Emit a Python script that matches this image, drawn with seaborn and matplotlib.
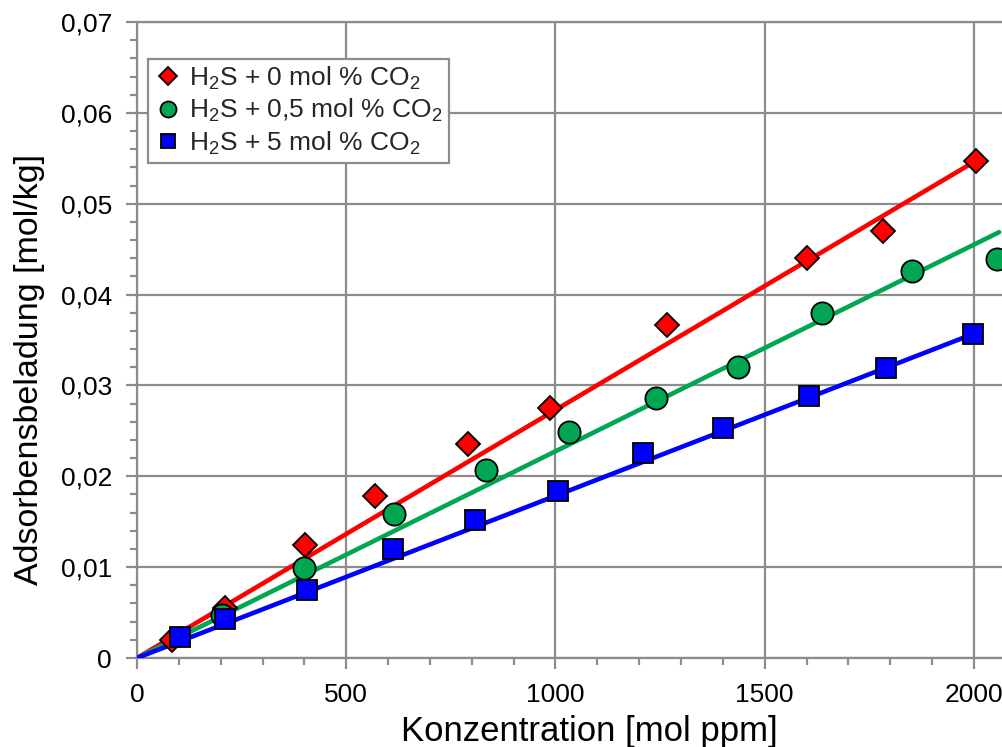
import numpy as np
import pandas as pd
import matplotlib
matplotlib.use("Agg")
import matplotlib.pyplot as plt
import seaborn as sns
from matplotlib.ticker import MultipleLocator, FuncFormatter

# Measured adsorption loadings (concentration in mol ppm, loading in mol/kg)
x_0co2 = [83, 210, 401, 569, 791, 987, 1266, 1601, 1783, 2004]
y_0co2 = [0.0020, 0.0055, 0.0124, 0.0178, 0.0236, 0.0275, 0.0367, 0.0440, 0.0470, 0.0547]

x_05co2 = [202, 399, 614, 834, 1032, 1240, 1436, 1637, 1851, 2054]
y_05co2 = [0.0047, 0.0099, 0.0159, 0.0207, 0.0249, 0.0286, 0.0320, 0.0380, 0.0426, 0.0439]

x_5co2 = [103, 210, 407, 612, 808, 1006, 1209, 1400, 1606, 1790, 1997]
y_5co2 = [0.0023, 0.0043, 0.0075, 0.0120, 0.0152, 0.0184, 0.0226, 0.0253, 0.0288, 0.0319, 0.0357]

# Slopes of the linear fits through the origin [mol/kg per mol ppm]
slopes = [2.73e-5, 2.275e-5, 1.785e-5]
fit_end = [2004, 2060, 1997]

labels = [r"H$_2$S + 0 mol % CO$_2$", r"H$_2$S + 0,5 mol % CO$_2$", r"H$_2$S + 5 mol % CO$_2$"]
colors = ["#ff0000", "#00a651", "#0000ff"]
markers = ["D", "o", "s"]
msizes = [12.5, 16, 14.5]

sns.set_theme(style="white")
plt.rcParams["font.family"] = ["Liberation Sans", "DejaVu Sans"]
plt.rcParams["mathtext.default"] = "regular"

fig = plt.figure(figsize=(10.03, 7.47), dpi=100)
ax = fig.add_axes([137 / 1003, 89 / 747, 866 / 1003, 636 / 747])

series = [(x_0co2, y_0co2), (x_05co2, y_05co2), (x_5co2, y_5co2)]

# fitted lines
for (xs, ys), k, xe, c in zip(series, slopes, fit_end, colors):
    line_df = pd.DataFrame({"x": [0, xe], "y": [0, k * xe]})
    sns.lineplot(data=line_df, x="x", y="y", color=c, lw=3.3, ax=ax,
                 zorder=3, legend=False, solid_capstyle="round")

# measured points
for (xs, ys), c, m, ms, lab in zip(series, colors, markers, msizes, labels):
    df = pd.DataFrame({"x": xs, "y": ys})
    ax.plot(df["x"], df["y"], ls="none", marker=m, ms=ms, mfc=c, mec="black",
            mew=1.3, zorder=4, label=lab)

ax.set_xlim(0, 2069.3)
ax.set_ylim(0, 0.07)

ax.xaxis.set_major_locator(MultipleLocator(500))
ax.xaxis.set_minor_locator(MultipleLocator(100))
ax.yaxis.set_major_locator(MultipleLocator(0.01))
ax.yaxis.set_minor_locator(MultipleLocator(0.002))
ax.yaxis.set_major_formatter(FuncFormatter(lambda v, p: "0" if abs(v) < 1e-12 else f"{v:.2f}".replace(".", ",")))
ax.xaxis.set_major_formatter(FuncFormatter(lambda v, p: f"{v:.0f}"))

grid_c = "#8c8c8c"
ax.grid(True, which="major", color=grid_c, lw=1.6)
ax.set_axisbelow(True)
for s in ["left", "bottom", "top"]:
    ax.spines[s].set_color(grid_c)
    ax.spines[s].set_linewidth(1.6)
ax.spines["right"].set_visible(False)

ax.tick_params(axis="both", which="major", direction="out", length=8, width=1.6,
               color=grid_c, labelsize=19, labelcolor="black")
ax.tick_params(axis="y", which="major", pad=10)
ax.tick_params(axis="x", which="major", pad=10)
ax.tick_params(axis="both", which="minor", direction="out", length=5, width=1.6,
               color=grid_c)
ax.tick_params(bottom=True, left=True, which="both")

ax.set_xlabel("Konzentration [mol ppm]", fontsize=25, color="black")
ax.set_ylabel("Adsorbensbeladung [mol/kg]", fontsize=24.5, color="black")
ax.xaxis.set_label_coords(0.522, -0.089)
ax.yaxis.set_label_coords(-0.106, 0.453)

leg = ax.legend(handles=[
    plt.Line2D([], [], ls="none", marker=m, ms=ms * 0.72, mfc=c, mec="black", mew=1.3)
    for c, m, ms in zip(colors, markers, msizes)], labels=labels,
    loc="upper left", bbox_to_anchor=(0.0127, 0.942), fontsize=19,
    frameon=True, fancybox=False, edgecolor=grid_c, framealpha=1,
    borderpad=0.22, labelspacing=0.2, handletextpad=0.25, handlelength=1.1,
    borderaxespad=0)
leg.get_frame().set_linewidth(1.6)
leg.set_zorder(5)

fig.savefig("out.png", dpi=100)
